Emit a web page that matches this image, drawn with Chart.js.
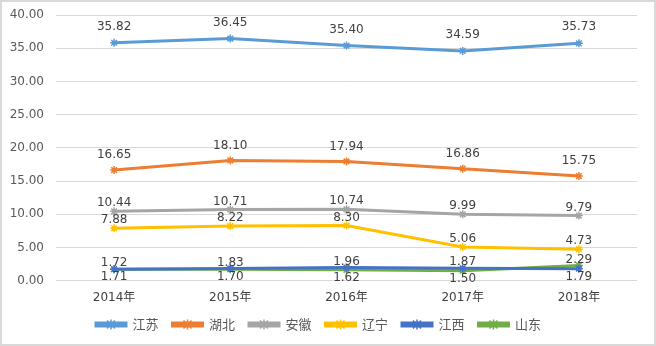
<!DOCTYPE html>
<html>
<head>
<meta charset="utf-8">
<script src="https://cdn.jsdelivr.net/npm/chart.js@4/dist/chart.umd.min.js"></script>
<style>
  body { margin: 0; background: #fff; }
  #box { width: 656px; height: 346px; }
</style>
</head>
<body>
<div id="box"><canvas id="grafica"></canvas></div>
<script>
var anios = ['2014年', '2015年', '2016年', '2017年', '2018年'];
var jiangsu = [35.82, 36.45, 35.40, 34.59, 35.73];
var hubei = [16.65, 18.10, 17.94, 16.86, 15.75];
var anhui = [10.44, 10.71, 10.74, 9.99, 9.79];
var liaoning = [7.88, 8.22, 8.30, 5.06, 4.73];
var jiangxi = [1.72, 1.83, 1.96, 1.87, 1.79];
var shandong = [1.71, 1.70, 1.62, 1.50, 2.29];
var ticksY = [0, 5, 10, 15, 20, 25, 30, 35, 40];

function serie(nombre, datos, color, sube, pareja){
    return {
        label: nombre,
        data: datos,
        borderColor: color,
        backgroundColor: color,
        borderWidth: 3,
        pointStyle: 'star',
        pointRadius: 4,
        pointBorderWidth: 1.5,
        pointBorderColor: color,
        tension: 0,
        sube: sube,
        pareja: pareja
    };
}

// etiquetas de valores encima / debajo de cada punto
var etiquetas = {
    id: 'etiquetas',
    afterDatasetsDraw(chart){
        let ctx = chart.ctx;
        ctx.save();
        ctx.font = '12px "DejaVu Sans"';
        ctx.fillStyle = '#404040';
        ctx.textAlign = 'center';
        ctx.textBaseline = 'middle';
        chart.data.datasets.forEach((ds, i) => {
            let meta = chart.getDatasetMeta(i);
            meta.data.forEach((p, j) => {
                let dy = -ds.sube;
                if(ds.pareja != null){
                    let otro = chart.data.datasets[ds.pareja].data[j];
                    dy = ds.data[j] >= otro ? -ds.sube : ds.sube + 2;
                }
                ctx.fillText(ds.data[j].toFixed(2), p.x, p.y + dy);
            });
        });
        ctx.restore();
    }
};

// marcador en medio de la linea de la leyenda + marco
var marco = {
    id: 'marco',
    beforeDraw(chart){
        let ctx = chart.ctx;
        ctx.save();
        ctx.fillStyle = '#fff';
        ctx.fillRect(0, 0, chart.width, chart.height);
        ctx.strokeStyle = '#d9d9d9';
        ctx.lineWidth = 2;
        ctx.strokeRect(1, 1, chart.width - 2, chart.height - 2);
        ctx.restore();
    },
    afterDraw(chart){
        let ctx = chart.ctx, lg = chart.legend;
        if(!lg || !lg.legendHitBoxes) return;
        lg.legendHitBoxes.forEach((h, i) => {
            let color = chart.data.datasets[i].borderColor;
            let cx = h.left + lg.options.labels.boxWidth / 2;
            let cy = h.top + h.height / 2;
            ctx.save();
            ctx.strokeStyle = color;
            ctx.lineWidth = 1.5;
            ctx.beginPath();
            ctx.moveTo(cx - 4, cy - 4); ctx.lineTo(cx + 4, cy + 4);
            ctx.moveTo(cx + 4, cy - 4); ctx.lineTo(cx - 4, cy + 4);
            ctx.moveTo(cx, cy - 5); ctx.lineTo(cx, cy + 5);
            ctx.stroke();
            ctx.restore();
        });
    }
};

document.addEventListener("DOMContentLoaded", () => {
    let lienzo = document.getElementById("grafica").getContext("2d");
    new Chart(lienzo, {
        type: 'line',
        data: {
            labels: anios,
            datasets: [
                serie('江苏', jiangsu, '#5B9BD5', 16),
                serie('湖北', hubei, '#ED7D31', 15),
                serie('安徽', anhui, '#A5A5A5', 8),
                serie('辽宁', liaoning, '#FFC000', 8),
                serie('江西', jiangxi, '#4472C4', 6, 5),
                serie('山东', shandong, '#70AD47', 6, 4)
            ]
        },
        options: {
            responsive: true,
            maintainAspectRatio: false,
            animation: false,
            layout: { padding: { left: 0, right: 19, top: 15, bottom: 5 } },
            plugins: {
                tooltip: { enabled: false },
                legend: {
                    position: 'bottom',
                    labels: {
                        boxWidth: 30,
                        boxHeight: 3,
                        padding: 14,
                        color: '#595959',
                        font: { family: '"Noto Sans CJK SC"', size: 13 }
                    }
                }
            },
            scales: {
                x: {
                    offset: true,
                    grid: { display: false },
                    border: { display: false },
                    afterFit: ax => { ax.height -= 3; },
                    ticks: {
                        color: '#404040',
                        padding: 2,
                        font: { family: '"DejaVu Sans", "Noto Sans CJK SC"', size: 12 }
                    }
                },
                y: {
                    min: ticksY[0],
                    max: ticksY[ticksY.length - 1],
                    afterBuildTicks: ax => { ax.ticks = ticksY.map(v => ({ value: v })); },
                    afterFit: ax => { ax.width = 56; ax.paddingTop = 0; ax.paddingBottom = 0; },
                    grid: { color: '#D9D9D9', drawTicks: false },
                    border: { display: false },
                    ticks: {
                        color: '#595959',
                        padding: 12,
                        font: { family: '"DejaVu Sans"', size: 12 },
                        callback: v => v.toFixed(2)
                    }
                }
            }
        },
        plugins: [etiquetas, marco]
    });
});
</script>
</body>
</html>
